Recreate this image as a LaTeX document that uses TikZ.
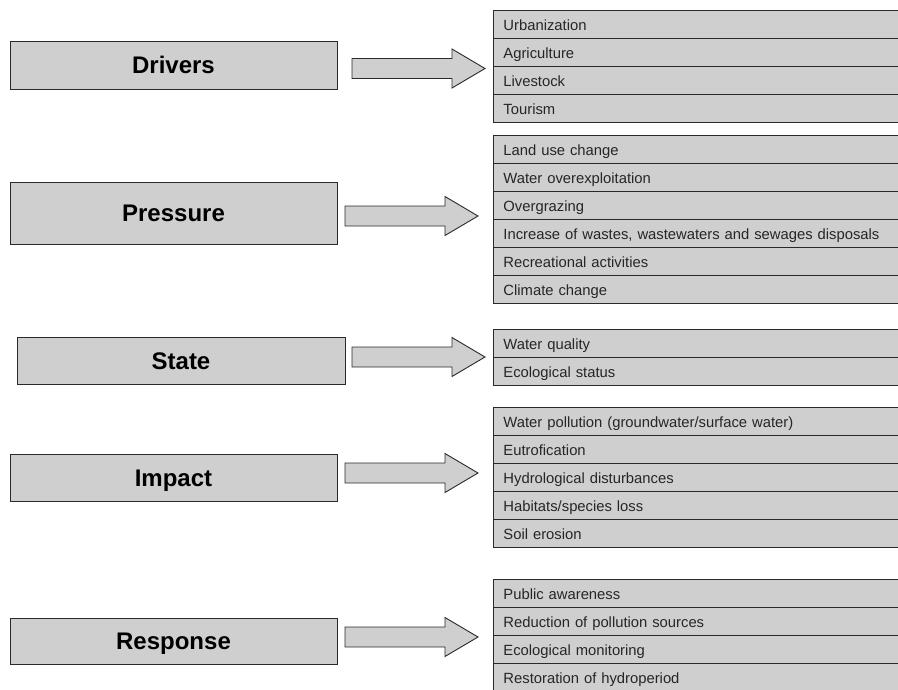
\documentclass[tikz,border=0pt]{standalone}
\usepackage{fontspec}
\setmainfont{Liberation Sans}
\usepackage{tikz}
\usetikzlibrary{positioning}
\definecolor{boxgray}{HTML}{CFCFCF}
\definecolor{linegray}{HTML}{2A2A2A}
\tikzset{%
    % DPSIR categories on the left
    category/.style = {draw=linegray, fill=boxgray, rectangle, line width=0.9pt,
    minimum width=327pt, inner sep=0pt, text height=17pt, text depth=0pt,
    font=\fontsize{24}{28}\selectfont\bfseries},
    % Rows of the lists on the right
    item/.style     = {draw=linegray, fill=boxgray, rectangle, line width=0.9pt,
    anchor=north west, minimum height=28pt, text width=440pt, align=left,
    inner xsep=10pt, inner ysep=0pt, text height=12pt, text depth=0pt,
    text=black!85, font=\fontsize{14.8}{17}\selectfont},
    % Block arrows between them
    fatarrow/.style = {draw=linegray, fill=boxgray, line width=0.9pt, line join=miter}
}
\begin{document}
\begin{tikzpicture}[x=1pt, y=-1pt]
	\useasboundingbox (0,0) rectangle (898,689);
	\clip (0,0) rectangle (898,689);
	
	\node[category, minimum height=48pt] (drivers) at (173.5,65) {Drivers};
	\node[category, minimum height=62pt] (pressure) at (173.5,213) {Pressure};
	\node[category, minimum width=328pt, minimum height=47pt] (state) at (181,360.5) {State};
	\node[category, minimum height=47pt] (impact) at (173.5,477.5) {Impact};
	\node[category, minimum height=46pt] (response) at (173.5,641) {Response};
	
	\foreach \ax/\ay in {352/68.5, 345/216, 352/357, 345/473, 345/637}
		\draw[fatarrow] (\ax,{\ay-10}) -- ++(100,0) -- ++(0,-9.5) -- ++(33,19.5)
		-- ++(-33,19.5) -- ++(0,-9.5) -- ++(-100,0) -- cycle;
	
	\foreach \txt [count=\i from 0] in {Urbanization, Agriculture, Livestock, Tourism}
		\node[item] (drv\i) at (493,{10+28*\i}) {\txt};
	\foreach \txt [count=\i from 0] in {Land use change, Water overexploitation, Overgrazing,
		{Increase of wastes, wastewaters and sewages disposals},
		Recreational activities, Climate change}
		\node[item] (prs\i) at (493,{135+28*\i}) {\txt};
	\foreach \txt [count=\i from 0] in {Water quality, Ecological status}
		\node[item] (sta\i) at (493,{329+28*\i}) {\txt};
	\foreach \txt [count=\i from 0] in {Water pollution (groundwater/surface water), Eutrofication,
		Hydrological disturbances, Habitats/species loss, Soil erosion}
		\node[item] (imp\i) at (493,{407+28*\i}) {\txt};
	\foreach \txt [count=\i from 0] in {Public awareness, Reduction of pollution sources,
		Ecological monitoring, Restoration of hydroperiod}
		\node[item] (rsp\i) at (493,{579+28*\i}) {\txt};
\end{tikzpicture}
\end{document}
